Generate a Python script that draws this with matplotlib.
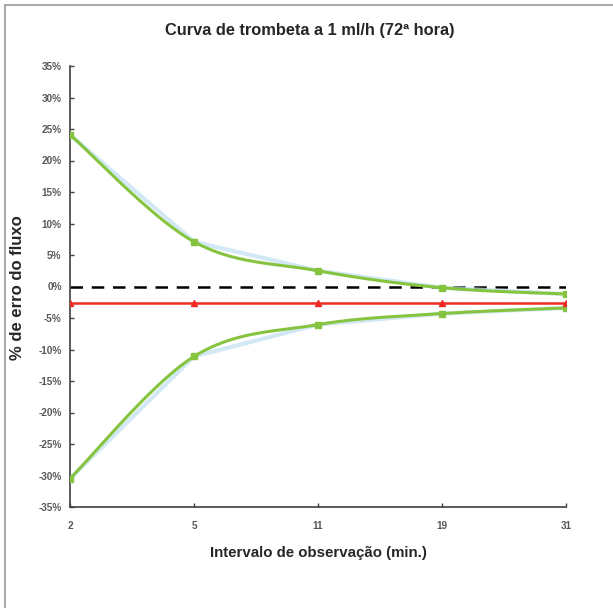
import numpy as np
import matplotlib
matplotlib.use("Agg")
import matplotlib.pyplot as plt
from matplotlib.lines import Line2D

# Observation windows (minutes) and flow-error percentages
intervals = ["2", "5", "11", "19", "31"]
max_err = [24.1, 7.1, 2.5, -0.2, -1.2]
min_err = [-30.5, -11.1, -6.05, -4.3, -3.4]
mean_err = [-2.6, -2.6, -2.6, -2.6, -2.6]
y_ticks = list(range(-35, 40, 5))

GREEN = "#86C440"
HALO = "#BFE0F2"
RED = "#F02A22"
GRAY = "#595959"


def smooth(xs, ys, n=40):
    """Catmull-Rom style cubic Bezier smoothing through every point."""
    xs = np.asarray(xs, float)
    ys = np.asarray(ys, float)
    P = np.column_stack([xs, ys])
    out = []
    for i in range(len(P) - 1):
        p0 = P[i - 1] if i > 0 else P[i]
        p1, p2 = P[i], P[i + 1]
        p3 = P[i + 2] if i + 2 < len(P) else P[i + 1]
        c1 = p1 + (p2 - p0) / 6.0
        c2 = p2 - (p3 - p1) / 6.0
        t = np.linspace(0, 1, n)[:, None]
        seg = ((1 - t) ** 3) * p1 + 3 * ((1 - t) ** 2) * t * c1 + 3 * (1 - t) * t ** 2 * c2 + t ** 3 * p2
        out.append(seg if i == 0 else seg[1:])
    pts = np.vstack(out)
    return pts[:, 0], pts[:, 1]


plt.rcParams["font.family"] = ["Liberation Sans", "DejaVu Sans"]

fig = plt.figure(figsize=(6.13, 6.08), dpi=100)
ax = fig.add_axes([70 / 613, 1 - 507 / 608, (566 - 70) / 613, (507 - 66) / 608])

x = np.arange(len(intervals))

# zero reference
ax.plot(x, [0] * len(x), color="black", lw=1.8, dashes=(5, 3.5), zorder=2)

# straight halos behind the smoothed envelopes
ax.plot(x, max_err, color=HALO, lw=3, alpha=0.7, zorder=2)
ax.plot(x, min_err, color=HALO, lw=3, alpha=0.7, zorder=2)

for series in (max_err, min_err):
    sx, sy = smooth(x, series)
    ax.plot(sx, sy, color=GREEN, lw=2.2, zorder=3, solid_capstyle="round")
    ax.plot(x, series, ls="none", marker="s", ms=4, color=GREEN, zorder=4)

ax.plot(x, mean_err, color=RED, lw=1.8, marker="^", ms=5, zorder=4)

ax.set_xlim(0, len(x) - 1)
ax.set_ylim(-35, 35)
ax.set_xticks(x)
ax.set_xticklabels(intervals)
ax.set_yticks(y_ticks)
ax.set_yticklabels([f"{v}%" for v in y_ticks])

for s in ("top", "right"):
    ax.spines[s].set_visible(False)
for s in ("left", "bottom"):
    ax.spines[s].set_color("#404040")
    ax.spines[s].set_linewidth(1.2)

ax.tick_params(axis="both", direction="in", length=3, width=1, color="#404040",
               labelsize=7.2, labelcolor=GRAY)
ax.tick_params(axis="y", pad=6)
ax.tick_params(axis="x", pad=10)
for lab in ax.get_xticklabels() + ax.get_yticklabels():
    lab.set_fontweight("bold")

fig.text(310 / 613, 1 - 30 / 608, "Curva de trombeta a 1 ml/h (72ª hora)",
         ha="center", va="center", fontsize=11.8, fontweight="bold", color="#262626")
fig.text(318 / 613, 1 - 553 / 608, "Intervalo de observação (min.)",
         ha="center", va="center", fontsize=10.8, fontweight="bold", color="#262626")
fig.text(18 / 613, 1 - 288 / 608, "% de erro do fluxo", rotation=90,
         ha="center", va="center", fontsize=12, fontweight="bold", color="#262626")

# outer frame lines
fig.add_artist(Line2D([5 / 613, 5 / 613], [0, 1 - 5 / 608], transform=fig.transFigure,
                      color="#9a9a9a", lw=1.2))
fig.add_artist(Line2D([5 / 613, 1], [1 - 5 / 608, 1 - 5 / 608], transform=fig.transFigure,
                      color="#9a9a9a", lw=1.2))

fig.savefig("out.png", dpi=100)
